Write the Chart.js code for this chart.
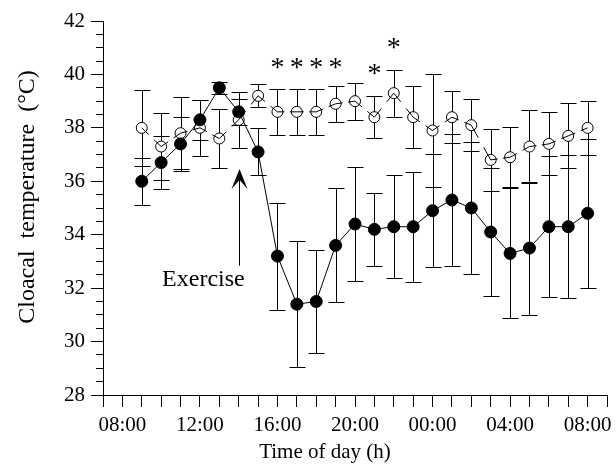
<!DOCTYPE html>
<html>
<head>
<meta charset="utf-8">
<script src="https://cdn.jsdelivr.net/npm/chart.js@4"></script>
<style>
  body { margin: 0; background: #fff; }
</style>
</head>
<body>
<canvas id="chart" width="616" height="471"></canvas>
<script>
'use strict';

// hour of day (9 = 09:00, 24 = 00:00, 32 = 08:00 next day)
const hours = [9, 10, 11, 12, 13, 14, 15, 16, 17, 18, 19, 20, 21, 22, 23, 24, 25, 26, 27, 28, 29, 30, 31, 32];

// filled circles (exercised) and their error bars
const exercised = [36.0, 36.7, 37.4, 38.3, 39.5, 38.6, 37.1, 33.2, 31.4, 31.5, 33.6, 34.4,
                   34.2, 34.3, 34.3, 34.9, 35.3, 35.0, 34.1, 33.3, 33.5, 34.3, 34.3, 34.8];
const exercisedErr = [0.87, 1.0, 1.0, 0.76, 0.22, 0.48, 0.88, 2.0, 2.35, 1.93, 2.13, 2.14,
                      1.36, 1.93, 2.06, 2.12, 2.48, 2.47, 2.39, 2.43, 2.49, 2.65, 2.68, 2.78];

// open circles (control) and their error bars
const control = [38.0, 37.3, 37.8, 38.0, 37.6, 38.3, 39.2, 38.6, 38.6, 38.6, 38.9, 39.0,
                 38.4, 39.3, 38.4, 37.9, 38.4, 38.1, 36.8, 36.9, 37.3, 37.4, 37.7, 38.0];
const controlErr = [1.43, 1.25, 1.35, 1.06, 1.1, 1.04, 0.43, 0.87, 0.87, 0.86, 0.67, 0.69,
                    0.79, 0.88, 1.17, 2.1, 0.98, 0.97, 1.15, 1.12, 1.35, 1.18, 1.22, 1.0];

// significance stars
const starHours = [16, 17, 18, 19, 21, 22];
const starLevels = [40.4, 40.4, 40.4, 40.4, 40.2, 41.15];

const serif = 'Liberation Serif';

function hourLabel(v) {
  const h = v % 24;
  return (h < 10 ? '0' : '') + h + ':00';
}

// draws the error bars under the points
const errorBars = {
  id: 'errorBars',
  beforeDatasetsDraw(chart) {
    const xs = chart.scales.x, ys = chart.scales.y, c = chart.ctx;
    c.save();
    c.strokeStyle = '#000';
    c.lineWidth = 1;
    [[exercised, exercisedErr], [control, controlErr]].forEach(([mean, err]) => {
      hours.forEach((h, i) => {
        const px = Math.round(xs.getPixelForValue(h)) + 0.5;
        const top = Math.round(ys.getPixelForValue(mean[i] + err[i])) + 0.5;
        const bot = Math.round(ys.getPixelForValue(mean[i] - err[i])) + 0.5;
        c.beginPath();
        c.moveTo(px, top); c.lineTo(px, bot);
        c.moveTo(px - 8, top); c.lineTo(px + 8, top);
        c.moveTo(px - 8, bot); c.lineTo(px + 8, bot);
        c.stroke();
      });
    });
    c.restore();
  }
};

// stars, exercise arrow, its label and the axis titles
const notes = {
  id: 'notes',
  afterDatasetsDraw(chart) {
    const xs = chart.scales.x, ys = chart.scales.y, c = chart.ctx;
    c.save();
    c.fillStyle = '#000';
    c.strokeStyle = '#000';

    c.font = '28px "' + serif + '"';
    c.textAlign = 'center';
    c.textBaseline = 'alphabetic';
    const m = c.measureText('*');
    const shift = (m.actualBoundingBoxAscent - m.actualBoundingBoxDescent) / 2;
    starHours.forEach((h, i) => {
      c.fillText('*', xs.getPixelForValue(h), ys.getPixelForValue(starLevels[i]) + shift);
    });

    const ax = Math.round(xs.getPixelForValue(14)) + 0.5;
    const tip = ys.getPixelForValue(36.46);
    c.lineWidth = 1;
    c.beginPath();
    c.moveTo(ax, ys.getPixelForValue(32.84));
    c.lineTo(ax, tip + 8);
    c.stroke();
    c.beginPath();
    c.moveTo(ax, tip);
    c.lineTo(ax + 8, tip + 20);
    c.lineTo(ax, tip + 11);
    c.lineTo(ax - 8, tip + 20);
    c.closePath();
    c.fill();

    c.font = '24px "' + serif + '"';
    c.textAlign = 'left';
    c.fillText('Exercise', xs.getPixelForValue(10.05), ys.getPixelForValue(32.09));

    // axis titles
    const area = chart.chartArea;
    c.textAlign = 'center';
    c.textBaseline = 'middle';
    c.font = '21px "' + serif + '"';
    c.fillText('Time of day (h)', area.left + 222, 452);
    c.translate(28, area.top + 176);
    c.rotate(-Math.PI / 2);
    c.font = '24px "' + serif + '"';
    c.fillText('Cloacal  temperature  (°C)', 0, 0);
    c.restore();
  }
};

// dashed control line: a stub out of each circle, gap in the middle
function stubDash(ctx) {
  const len = Math.hypot(ctx.p1.x - ctx.p0.x, ctx.p1.y - ctx.p0.y);
  const a = 0.36 * len;
  return [a, len - 2 * a, a, 0];
}

const tickFont = { family: serif, size: 21 };

const controlPoints = hours.map((h, i) => ({ x: h, y: control[i] }));

new Chart(document.getElementById('chart'), {
  type: 'line',
  data: {
    datasets: [{
      label: 'Exercised',
      data: hours.map((h, i) => ({ x: h, y: exercised[i] })),
      borderColor: '#000',
      borderWidth: 1,
      pointRadius: 6,
      pointBackgroundColor: '#000',
      pointBorderColor: '#000',
      order: 0
    }, {
      label: 'Control line',
      data: controlPoints,
      borderColor: '#000',
      borderWidth: 1,
      pointRadius: 0,
      segment: { borderDash: stubDash },
      order: 1
    }, {
      label: 'Control',
      data: controlPoints,
      showLine: false,
      pointRadius: 5.5,
      pointBorderWidth: 1,
      pointBackgroundColor: '#fff',
      pointBorderColor: '#000',
      order: 2
    }]
  },
  options: {
    responsive: false,
    animation: false,
    layout: { padding: { left: 0, right: 9, top: 21, bottom: 0 } },
    plugins: {
      legend: { display: false },
      tooltip: { enabled: false }
    },
    scales: {
      x: {
        type: 'linear',
        min: 7,
        max: 33,
        afterFit: s => { s.height = 76; },
        ticks: {
          stepSize: 1,
          autoSkip: false,
          maxRotation: 0,
          padding: 6,
          color: '#000',
          font: tickFont,
          callback: v => (v >= 8 && v <= 32 && (v - 8) % 4 === 0) ? hourLabel(v) : ''
        },
        grid: { drawOnChartArea: false, tickLength: 12, tickColor: '#000', tickWidth: 1 },
        border: { color: '#000', width: 1 }
      },
      y: {
        min: 28,
        max: 42,
        afterFit: s => { s.width = 103; },
        ticks: {
          stepSize: 0.5,
          autoSkip: false,
          padding: 6,
          color: '#000',
          font: tickFont,
          callback: v => v % 2 === 0 ? String(v) : ''
        },
        grid: {
          drawOnChartArea: false,
          tickLength: 12,
          tickColor: '#000',
          tickWidth: 1,
          tickBorderDash: c => (c.tick && c.tick.value % 2 !== 0) ? [0, 5, 7, 100] : []
        },
        border: { color: '#000', width: 1 }
      }
    }
  },
  plugins: [errorBars, notes]
});
</script>
</body>
</html>
